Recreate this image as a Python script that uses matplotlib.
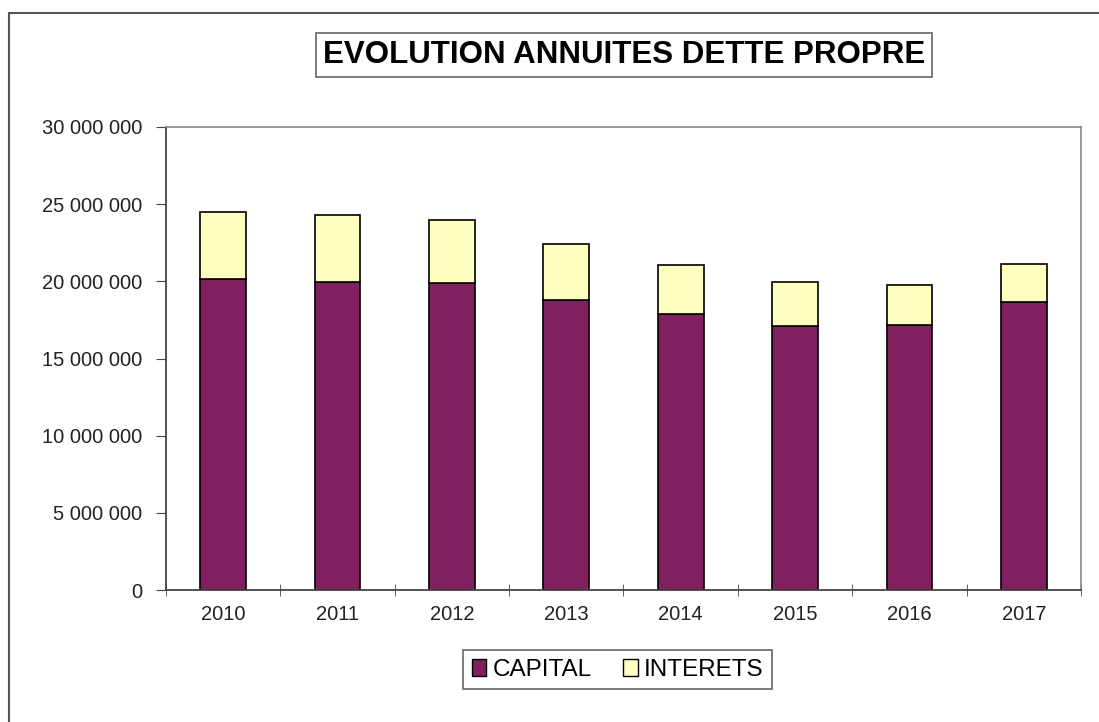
import numpy as np
import matplotlib
matplotlib.use("Agg")
import matplotlib.pyplot as plt
from matplotlib.lines import Line2D
from matplotlib.patches import Patch
from matplotlib.ticker import FuncFormatter

plt.rcParams['font.family'] = ['Liberation Sans', 'DejaVu Sans']

# données
annees = ['2010', '2011', '2012', '2013', '2014', '2015', '2016', '2017']
capital = [20130000, 19980000, 19910000, 18770000, 17860000, 17080000, 17140000, 18660000]
interets = [4370000, 4350000, 4070000, 3650000, 3200000, 2860000, 2620000, 2440000]

couleur_capital = '#80205F'
couleur_interets = '#FFFFC0'

fig = plt.figure(figsize=(10.99, 7.22), dpi=100)
ax = fig.add_axes([0.151, 0.1828, 0.8326, 0.6413])

x = np.arange(len(annees))
ax.bar(x, capital, width=0.4, color=couleur_capital, edgecolor='black', linewidth=1.2)
ax.bar(x, interets, width=0.4, bottom=capital, color=couleur_interets,
       edgecolor='black', linewidth=1.2)

ax.set_xlim(-0.5, len(annees) - 0.5)
ax.set_ylim(0, 30000000)
ax.set_yticks(np.arange(0, 30000001, 5000000))
ax.yaxis.set_major_formatter(FuncFormatter(lambda v, p: f"{int(v):,}".replace(',', ' ')))

# années au centre, traits aux limites des catégories
ax.set_xticks(x)
ax.set_xticklabels(annees)
ax.set_xticks(np.arange(-0.5, len(annees)), minor=True)
ax.tick_params(axis='x', which='major', length=0, pad=11, labelsize=14.5, colors='#222222')
ax.tick_params(axis='x', which='minor', length=8, direction='inout', color='#444444')
ax.tick_params(axis='y', length=7, direction='out', pad=10, labelsize=14.5,
               colors='#222222', color='#444444')

for side in ['top', 'right']:
    ax.spines[side].set_color('#888888')
    ax.spines[side].set_linewidth(1.2)
for side in ['left', 'bottom']:
    ax.spines[side].set_color('#444444')
    ax.spines[side].set_linewidth(1.3)

# titre encadré
fig.text(0.568, 0.924, 'EVOLUTION ANNUITES DETTE PROPRE', ha='center', va='center',
         fontsize=22.5, fontweight='bold',
         bbox=dict(boxstyle='square,pad=0.22', facecolor='white', edgecolor='#666666', linewidth=1.2))

# légende
handles = [Patch(facecolor=couleur_capital, edgecolor='black', label='CAPITAL'),
           Patch(facecolor=couleur_interets, edgecolor='black', label='INTERETS')]
leg = fig.legend(handles=handles, loc='center', bbox_to_anchor=(0.562, 0.0727), ncol=2,
                 fontsize=17.5, fancybox=False, edgecolor='#666666', handlelength=0.6,
                 handleheight=0.7, handletextpad=0.25, columnspacing=1.3, borderpad=0.35,
                 borderaxespad=0, framealpha=1)
leg.get_frame().set_linewidth(1.2)

# cadre extérieur (bords gauche et haut visibles)
fig.add_artist(Line2D([9 / 1099, 9 / 1099], [0, 1 - 13 / 722], color='#555555', linewidth=1.5))
fig.add_artist(Line2D([9 / 1099, 1], [1 - 13 / 722, 1 - 13 / 722], color='#555555', linewidth=1.5))

fig.savefig('out.png', dpi=100)
